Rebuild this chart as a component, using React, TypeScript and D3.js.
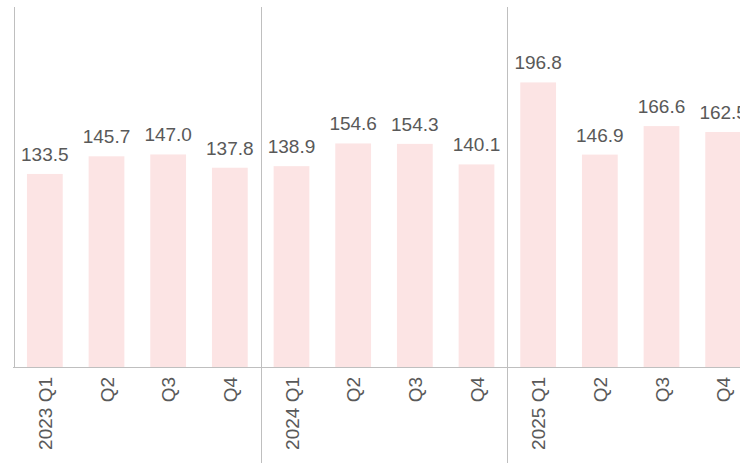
import React from "react";
import * as d3 from "d3";

const years = ["2023", "2024", "2025"];
const quarters = ["Q1", "Q2", "Q3", "Q4"];
const values = [133.5, 145.7, 147.0, 137.8, 138.9, 154.6, 154.3, 140.1, 196.8, 146.9, 166.6, 162.5];

export default function App() {
  const W = 740, H = 463;
  const cats = values.map((_, i) => `${years[Math.floor(i / 4)]}-${quarters[i % 4]}`);
  const x = d3.scaleBand().domain(cats).range([14, 754]).paddingInner(0.42).paddingOuter(0.21);
  const y = d3.scaleLinear().domain([0, 250]).range([367, 5.5]);
  const step = x.step();
  const font = "'Liberation Sans', Arial, sans-serif";
  return (
    <svg width={W} height={H} style={{ position: "absolute", left: 0, top: 0 }}>
      <rect width={W} height={H} fill="#fff" />
      {values.map((v, i) => (
        <g key={i}>
          <rect x={x(cats[i])!} y={y(v)} width={x.bandwidth()} height={y(0) - y(v)} fill="#fce4e4" />
          <text x={x(cats[i])! + x.bandwidth() / 2} y={y(v) - 13} textAnchor="middle" fontSize={19} fill="#595959" fontFamily={font}>
            {v.toFixed(1)}
          </text>
          <text transform={`translate(${x(cats[i])! + x.bandwidth() / 2 + 7},377) rotate(-90)`} textAnchor="end" fontSize={19} fill="#595959" fontFamily={font}>
            {i % 4 === 0 ? `${years[i / 4]} ${quarters[0]}` : quarters[i % 4]}
          </text>
        </g>
      ))}
      <line x1={13} x2={W} y1={367.5} y2={367.5} stroke="#bfbfbf" />
      {[0, 4, 8].map((i) => {
        const xx = Math.round(x(cats[i])! - (step - x.bandwidth()) / 2) + 0.5;
        return <line key={i} x1={xx} x2={xx} y1={7} y2={i === 0 ? 367 : H} stroke="#bfbfbf" />;
      })}
    </svg>
  );
}
